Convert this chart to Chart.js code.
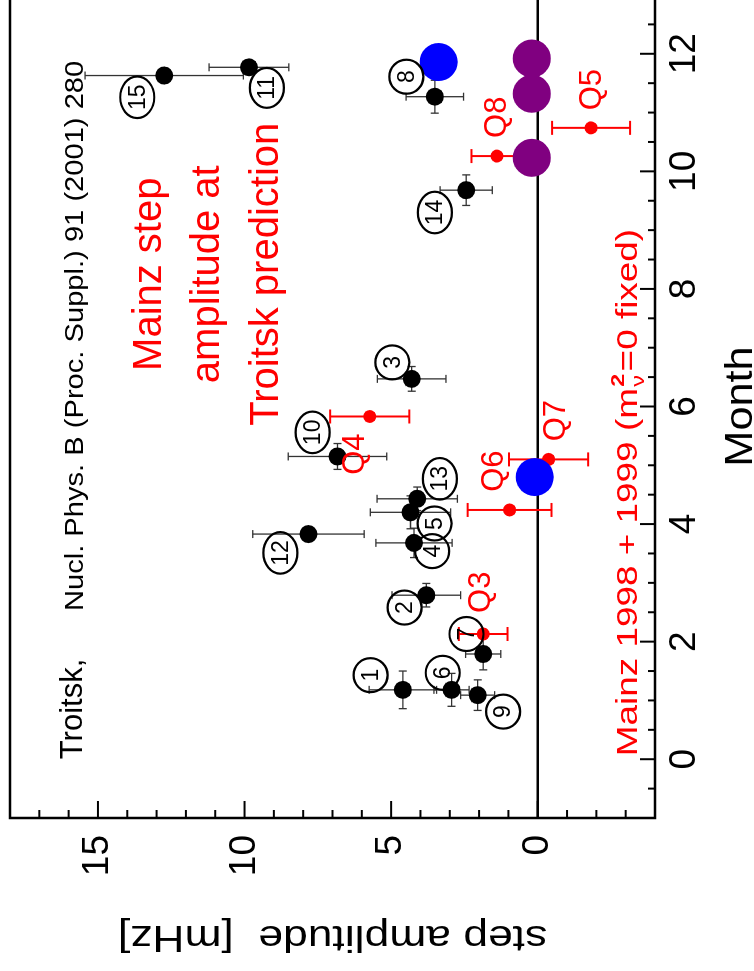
<!DOCTYPE html>
<html>
<head>
<meta charset="utf-8">
<script src="https://cdn.jsdelivr.net/npm/chart.js@4.4.1/dist/chart.umd.min.js"></script>
<style>
  html, body { margin: 0; padding: 0; overflow: hidden; background: #fff; width: 754px; height: 971px; }
  /* the original plot is landscape, the page shows it turned a quarter turn to the left */
  #wrap { position: absolute; left: 0; top: 0; width: 986px; height: 754px;
          transform-origin: 0 0; transform: translate(0px, 971px) rotate(-90deg); }
</style>
</head>
<body>
<div id="wrap"><canvas id="chart" width="986" height="754"></canvas></div>
<script>
// Troitsk steps (numbered 1..15)
var troitskId       = ["1", "2", "3", "4", "5", "6", "7", "8", "9", "10", "11", "12", "13", "14", "15"];
var troitskMonth    = [1.18, 2.79, 6.47, 3.68, 4.20, 1.18, 1.79, 11.27, 1.09, 5.15, 11.77, 3.83, 4.43, 9.68, 11.63];
var troitskAmp      = [4.60, 3.80, 4.30, 4.22, 4.34, 2.94, 1.86, 3.51, 2.05, 6.83, 9.85, 7.82, 4.11, 2.44, 12.74];
var troitskAmpErr   = [1.15, 1.17, 1.17, 1.30, 1.37, 0.60, 0.60, 0.98, 0.58, 1.68, 1.36, 1.90, 1.37, 0.89, 2.70];
var troitskMonthErr = [0.32, 0.20, 0.21, 0.25, 0.28, 0.28, 0.27, 0.28, 0.26, 0.22, 0, 0, 0.20, 0.26, 0];
// where the circled numbers sit
var troitskLabelMonth = [1.43, 2.58, 6.75, 3.54, 4.01, 1.47, 2.13, 11.61, 0.81, 5.56, 11.42, 3.51, 4.77, 9.30, 11.26];
var troitskLabelAmp   = [5.70, 4.54, 4.96, 3.60, 3.52, 3.24, 2.43, 4.48, 1.18, 7.68, 9.24, 8.78, 3.34, 3.51, 13.66];

// Mainz step amplitude at Troitsk prediction
var mainzName   = ["Q3", "Q4", "Q5", "Q6", "Q7", "Q8"];
var mainzMonth  = [2.13, 5.83, 10.74, 4.24, 5.10, 10.26];
var mainzAmp    = [1.86, 5.73, -1.82, 0.96, -0.37, 1.39];
var mainzAmpErr = [0.83, 1.35, 1.33, 1.43, 1.35, 0.87];
var mainzLabelMonth = [2.84, 5.19, 11.39, 4.90, 5.76, 10.92];
var mainzLabelAmp   = [1.92, 6.21, -1.87, 1.48, -0.63, 1.38];

// big markers
var blueMonth   = [4.80, 11.86];
var blueAmp     = [0.10, 3.38];
var purpleMonth = [10.23, 11.32, 11.92];
var purpleAmp   = [0.20, 0.20, 0.20];

var monthTicks = [0, 2, 4, 6, 8, 10, 12];
var ampTicks   = [0, 5, 10, 15];

var FONT = "'Liberation Sans', Arial, Helvetica, sans-serif";

function pts(xs, ys) {
    return xs.map(function (v, i) { return { x: v, y: ys[i] }; });
}

function line(ctx, x1, y1, x2, y2) {
    ctx.beginPath();
    ctx.moveTo(x1, y1);
    ctx.lineTo(x2, y2);
    ctx.stroke();
}

function drawText(ctx, s, x, y, size, color, align, sx, rot) {
    ctx.save();
    ctx.translate(x, y);
    if (rot) ctx.rotate(rot);
    ctx.scale(sx || 1, 1);
    ctx.font = size + "px " + FONT;
    ctx.fillStyle = color;
    ctx.textAlign = align || "left";
    ctx.textBaseline = "alphabetic";
    ctx.fillText(s, 0, 0);
    ctx.restore();
}

// vertical error bar (amplitude) + optional horizontal one (month)
function errorBar(ctx, xs, ys, mx, my, dy, dx, cap) {
    var px = xs.getPixelForValue(mx), py = ys.getPixelForValue(my);
    var top = ys.getPixelForValue(my + dy), bot = ys.getPixelForValue(my - dy);
    line(ctx, px, top, px, bot);
    line(ctx, px - cap, top, px + cap, top);
    line(ctx, px - cap, bot, px + cap, bot);
    if (dx > 0) {
        var l = xs.getPixelForValue(mx - dx), r = xs.getPixelForValue(mx + dx);
        line(ctx, l, py, r, py);
        line(ctx, l, py - 4, l, py + 4);
        line(ctx, r, py - 4, r, py + 4);
    }
}

var decorations = {
    id: "decorations",
    beforeDatasetsDraw: function (chart) {
        var ctx = chart.ctx, a = chart.chartArea;
        var xs = chart.scales.x, ys = chart.scales.y;
        ctx.save();
        ctx.beginPath();
        ctx.rect(a.left, a.top, a.right - a.left, a.bottom - a.top);
        ctx.clip();

        // zero line
        ctx.strokeStyle = "#000";
        ctx.lineWidth = 2.5;
        var y0 = ys.getPixelForValue(0);
        line(ctx, a.left, y0, a.right, y0);

        // Troitsk error bars
        ctx.strokeStyle = "#333";
        ctx.lineWidth = 1.3;
        for (var i = 0; i < troitskMonth.length; i++) {
            errorBar(ctx, xs, ys, troitskMonth[i], troitskAmp[i], troitskAmpErr[i], troitskMonthErr[i], 4);
        }
        // Mainz error bars
        ctx.strokeStyle = "#ff0000";
        ctx.lineWidth = 2;
        for (var j = 0; j < mainzMonth.length; j++) {
            errorBar(ctx, xs, ys, mainzMonth[j], mainzAmp[j], mainzAmpErr[j], 0, 7);
        }
        ctx.restore();
    },
    afterDatasetsDraw: function (chart) {
        var ctx = chart.ctx, a = chart.chartArea;
        var xs = chart.scales.x, ys = chart.scales.y;
        var i;

        // circled Troitsk numbers
        ctx.save();
        ctx.strokeStyle = "#000";
        ctx.lineWidth = 2.2;
        ctx.font = "23px " + FONT;
        ctx.fillStyle = "#000";
        ctx.textAlign = "center";
        ctx.textBaseline = "middle";
        for (i = 0; i < troitskId.length; i++) {
            var cx = xs.getPixelForValue(troitskLabelMonth[i]);
            var cy = ys.getPixelForValue(troitskLabelAmp[i]);
            var w = ctx.measureText(troitskId[i]).width;
            ctx.beginPath();
            ctx.ellipse(cx, cy, Math.max(17, w / 2 + 8), 17, 0, 0, Math.PI * 2);
            ctx.stroke();
            ctx.fillText(troitskId[i], cx, cy + 1);
        }
        ctx.restore();

        // Q labels
        ctx.save();
        ctx.font = "31px " + FONT;
        ctx.fillStyle = "#ff0000";
        ctx.textAlign = "center";
        ctx.textBaseline = "middle";
        for (i = 0; i < mainzName.length; i++) {
            ctx.fillText(mainzName[i], xs.getPixelForValue(mainzLabelMonth[i]), ys.getPixelForValue(mainzLabelAmp[i]));
        }
        ctx.restore();

        // reference line on top
        drawText(ctx, "Troitsk,", xs.getPixelForValue(0), ys.getPixelForValue(15.56), 31, "#000", "left");
        drawText(ctx, "Nucl. Phys. B (Proc. Suppl.) 91 (2001) 280", xs.getPixelForValue(2.52),
                 ys.getPixelForValue(15.5), 26, "#000", "left", 1.12);

        // red block
        var bx = xs.getPixelForValue(8.25);
        drawText(ctx, "Mainz step", bx, ys.getPixelForValue(12.84), 40, "#ff0000", "center");
        drawText(ctx, "amplitude at", bx, ys.getPixelForValue(10.87), 40, "#ff0000", "center");
        drawText(ctx, "Troitsk prediction", bx, ys.getPixelForValue(8.86), 40, "#ff0000", "center");

        // Mainz data line with m_nu^2
        ctx.save();
        ctx.translate(xs.getPixelForValue(0.05), ys.getPixelForValue(-3.38));
        ctx.scale(1.23, 1);
        ctx.fillStyle = "#ff0000";
        ctx.textBaseline = "alphabetic";
        ctx.font = "30px " + FONT;
        var s1 = "Mainz 1998 + 1999 (m";
        ctx.fillText(s1, 0, 0);
        var w1 = ctx.measureText(s1).width;
        ctx.font = "19px " + FONT;
        ctx.fillText("\u03bd", w1 + 1, 7);
        ctx.font = "bold 19px " + FONT;
        ctx.fillText("2", w1 + 1, -13);
        var w2 = Math.max(ctx.measureText("2").width, ctx.measureText("\u03bd").width) + 3;
        ctx.font = "30px " + FONT;
        ctx.fillText("=0 fixed)", w1 + w2, 0);
        ctx.restore();
    },
    afterDraw: function (chart) {
        var ctx = chart.ctx, a = chart.chartArea;
        var xs = chart.scales.x, ys = chart.scales.y;
        var v, p, len;
        ctx.save();
        ctx.strokeStyle = "#000";
        ctx.lineWidth = 2;
        // ticks pointing inward on left and bottom
        for (v = -4; v <= 18; v += 1) {
            p = ys.getPixelForValue(v);
            len = v % 5 === 0 ? 17 : 8;
            line(ctx, a.left, p, a.left + len, p);
        }
        for (v = -1; v <= 13; v += 0.5) {
            p = xs.getPixelForValue(v);
            len = v % 2 === 0 ? 15 : 7;
            line(ctx, p, a.bottom, p, a.bottom - len);
        }
        // frame
        ctx.lineWidth = 2.5;
        ctx.strokeRect(a.left, a.top, a.right - a.left, a.bottom - a.top);
        ctx.restore();

        // axis titles
        drawText(ctx, "Month", (a.left + a.right) / 2, 752, 38, "#000", "center", 1.14);
        drawText(ctx, "step amplitude  [mHz]", 45, (a.top + a.bottom) / 2, 37, "#000", "center", 1.2, -Math.PI / 2);
    }
};

new Chart(document.getElementById("chart").getContext("2d"), {
    type: "scatter",
    data: {
        datasets: [
            {
                label: "Troitsk prediction",
                data: pts(blueMonth, blueAmp),
                pointRadius: 19,
                backgroundColor: "#0000ff",
                borderWidth: 0,
            },
            {
                label: "Mainz fixed",
                data: pts(purpleMonth, purpleAmp),
                pointRadius: 19,
                backgroundColor: "#800080",
                borderWidth: 0,
            },
            {
                label: "Mainz",
                data: pts(mainzMonth, mainzAmp),
                pointRadius: 6.5,
                backgroundColor: "#ff0000",
                borderWidth: 0,
            },
            {
                label: "Troitsk",
                data: pts(troitskMonth, troitskAmp),
                pointRadius: 9,
                backgroundColor: "#000000",
                borderWidth: 0,
            },
        ],
    },
    options: {
        responsive: false,
        animation: false,
        events: [],
        layout: { autoPadding: false, padding: { top: 10, right: 10, left: 0, bottom: 0 } },
        scales: {
            x: {
                type: "linear",
                min: -1,
                max: 13,
                grid: { display: false, drawTicks: false },
                border: { display: false },
                afterBuildTicks: function (s) {
                    s.ticks = monthTicks.map(function (v) { return { value: v }; });
                },
                afterFit: function (s) {
                    s.height = 99;
                    s.paddingLeft = 0;
                    s.paddingRight = 0;
                },
                ticks: {
                    padding: 8,
                    color: "#000",
                    font: { family: FONT, size: 37 },
                    maxRotation: 0,
                },
            },
            y: {
                type: "linear",
                min: -4,
                max: 18,
                grid: { display: false, drawTicks: false },
                border: { display: false },
                afterBuildTicks: function (s) {
                    s.ticks = ampTicks.map(function (v) { return { value: v }; });
                },
                afterFit: function (s) {
                    s.width = 153;
                    s.paddingTop = 0;
                    s.paddingBottom = 0;
                },
                ticks: {
                    padding: 17,
                    color: "#000",
                    font: { family: FONT, size: 37 },
                },
            },
        },
        plugins: {
            legend: { display: false },
            tooltip: { enabled: false },
        },
    },
    plugins: [decorations],
});
</script>
</body>
</html>
